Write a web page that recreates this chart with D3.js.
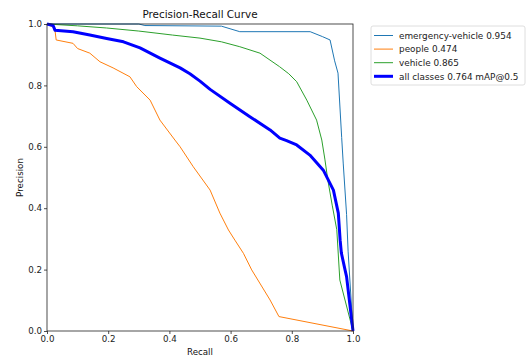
<!DOCTYPE html>
<html>
<head>
<meta charset="utf-8">
<script src="https://cdn.jsdelivr.net/npm/d3@7"></script>
<style>
  body { margin: 0; background: #fff; }
  svg { display: block; font-family: "DejaVu Sans", sans-serif; }
</style>
</head>
<body>
<div id="chart"></div>
<script>
// data
const seriesNames = ["emergency-vehicle 0.954", "people 0.474", "vehicle 0.865", "all classes 0.764 mAP@0.5"];
const seriesColors = ["#1f77b4", "#ff7f0e", "#2ca02c", "#0000ff"];
const seriesWidths = [1, 1, 1, 3];

const recallEmergency = [0, 0.30, 0.32, 0.57, 0.63, 0.86, 0.90, 0.925, 0.94, 0.951, 0.963, 0.968, 0.979, 0.984, 1.0];
const precisionEmergency = [1.0, 1.0, 0.995, 0.993, 0.975, 0.975, 0.959, 0.948, 0.88, 0.84, 0.63, 0.547, 0.38, 0.26, 0.0];

const recallPeople = [0, 0.02, 0.026, 0.03, 0.085, 0.10, 0.14, 0.173, 0.216, 0.271, 0.293, 0.337, 0.369, 0.418, 0.435, 0.478, 0.533, 0.565, 0.593, 0.614, 0.642, 0.669, 0.729, 0.758, 1.0];
const precisionPeople = [1.0, 0.99, 0.98, 0.948, 0.937, 0.92, 0.905, 0.877, 0.857, 0.828, 0.796, 0.752, 0.687, 0.622, 0.60, 0.535, 0.459, 0.384, 0.329, 0.296, 0.253, 0.199, 0.101, 0.047, 0.0];

const recallVehicle = [0, 0.1, 0.195, 0.3, 0.41, 0.5, 0.57, 0.63, 0.696, 0.76, 0.79, 0.816, 0.849, 0.881, 0.898, 0.908, 0.918, 0.932, 0.947, 0.957, 1.0];
const precisionVehicle = [1.0, 0.994, 0.987, 0.977, 0.964, 0.954, 0.942, 0.926, 0.905, 0.861, 0.838, 0.812, 0.752, 0.687, 0.622, 0.56, 0.49, 0.41, 0.33, 0.166, 0.0];

const recallAll = [0, 0.02, 0.026, 0.085, 0.14, 0.195, 0.25, 0.304, 0.369, 0.435, 0.467, 0.5, 0.533, 0.598, 0.663, 0.729, 0.761, 0.783, 0.816, 0.859, 0.903, 0.936, 0.952, 0.958, 0.962, 0.974, 0.979, 1.0];
const precisionAll = [1.0, 0.995, 0.98, 0.975, 0.964, 0.953, 0.942, 0.922, 0.889, 0.857, 0.838, 0.814, 0.787, 0.742, 0.698, 0.655, 0.628, 0.62, 0.606, 0.573, 0.524, 0.459, 0.384, 0.296, 0.254, 0.199, 0.177, 0.0];

const tickValues = [0, 0.2, 0.4, 0.6, 0.8, 1.0];

const series = [
  [recallEmergency, precisionEmergency],
  [recallPeople, precisionPeople],
  [recallVehicle, precisionVehicle],
  [recallAll, precisionAll]
].map(function (s, i) {
  return {
    name: seriesNames[i], color: seriesColors[i], width: seriesWidths[i],
    points: s[0].map(function (r, j) { return [r, s[1][j]]; })
  };
});

const width = 526, height = 360;
const margin = { top: 24, left: 47, right: 173, bottom: 29 };

const svg = d3.select("#chart").append("svg")
  .attr("width", width)
  .attr("height", height);

svg.append("rect").attr("width", width).attr("height", height).attr("fill", "#fff");

const x = d3.scaleLinear().domain([0, 1]).range([margin.left, width - margin.right]);
const y = d3.scaleLinear().domain([0, 1]).range([height - margin.bottom, margin.top]);

// lines
const line = d3.line()
  .x(function (d) { return x(d[0]); })
  .y(function (d) { return y(d[1]); });

svg.append("defs").append("clipPath").attr("id", "clip")
  .append("rect")
  .attr("x", x(0) - 2).attr("y", y(1) - 2)
  .attr("width", x(1) - x(0) + 4).attr("height", y(0) - y(1) + 4);

svg.append("g").attr("clip-path", "url(#clip)")
  .selectAll("path")
  .data(series)
  .enter().append("path")
  .attr("d", function (d) { return line(d.points); })
  .attr("fill", "none")
  .attr("stroke", function (d) { return d.color; })
  .attr("stroke-width", function (d) { return d.width; })
  .attr("stroke-linejoin", "round");

// axes
const xAxis = svg.append("g")
  .attr("transform", "translate(0," + y(0) + ")")
  .call(d3.axisBottom(x).tickValues(tickValues).tickFormat(d3.format(".1f")).tickSizeOuter(0).tickSize(3).tickPadding(2));
const yAxis = svg.append("g")
  .attr("transform", "translate(" + x(0) + ",0)")
  .call(d3.axisLeft(y).tickValues(tickValues).tickFormat(d3.format(".1f")).tickSizeOuter(0).tickSize(3).tickPadding(2));

[xAxis, yAxis].forEach(function (a) {
  a.select(".domain").remove();
  a.selectAll("text").attr("font-size", 8.7).attr("font-family", "DejaVu Sans").attr("fill", "#222");
  a.selectAll("line").attr("stroke", "#222").attr("stroke-width", 0.8);
});

// frame
svg.append("rect")
  .attr("x", x(0)).attr("y", y(1))
  .attr("width", x(1) - x(0)).attr("height", y(0) - y(1))
  .attr("fill", "none").attr("stroke", "#222").attr("stroke-width", 0.8);

// title and labels
svg.append("text")
  .attr("x", (x(0) + x(1)) / 2).attr("y", 18)
  .attr("text-anchor", "middle").attr("font-size", 10.4).attr("fill", "#111")
  .text("Precision-Recall Curve");

svg.append("text")
  .attr("x", (x(0) + x(1)) / 2).attr("y", 355)
  .attr("text-anchor", "middle").attr("font-size", 8.7).attr("fill", "#111")
  .text("Recall");

svg.append("text")
  .attr("transform", "translate(23," + ((y(0) + y(1)) / 2) + ") rotate(-90)")
  .attr("text-anchor", "middle").attr("font-size", 8.7).attr("fill", "#111")
  .text("Precision");

// legend
const legend = svg.append("g").attr("transform", "translate(371,26)");
legend.append("rect")
  .attr("width", 154).attr("height", 59).attr("rx", 2)
  .attr("fill", "#fff").attr("stroke", "#d5d5d5").attr("stroke-width", 0.8);

const items = legend.selectAll(".legend-item")
  .data(series)
  .enter().append("g")
  .attr("class", "legend-item")
  .attr("transform", function (d, i) { return "translate(0," + (9.5 + i * 13.6) + ")"; });

items.append("line")
  .attr("x1", 3).attr("x2", 22)
  .attr("stroke", function (d) { return d.color; })
  .attr("stroke-width", function (d) { return d.width; });

items.append("text")
  .attr("x", 28).attr("y", 3.2)
  .attr("font-size", 8.9).attr("fill", "#222")
  .text(function (d) { return d.name; });
</script>
</body>
</html>
